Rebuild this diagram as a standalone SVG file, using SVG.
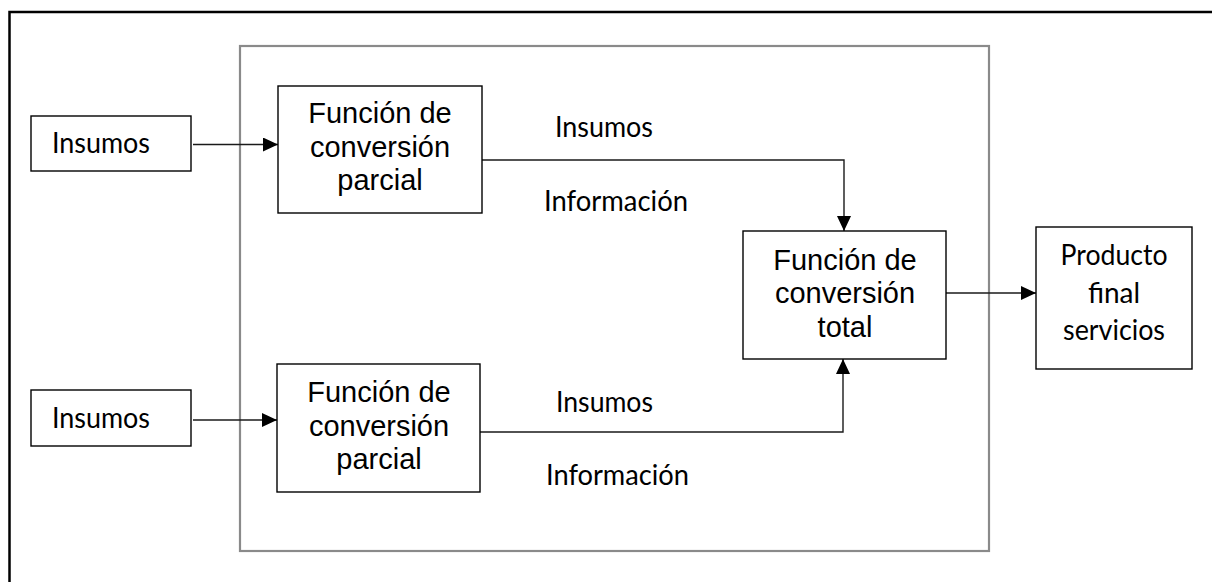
<svg xmlns="http://www.w3.org/2000/svg" width="1212" height="582" viewBox="0 0 1212 582">
<style>
.bg{fill:#ffffff}
.frame{fill:none;stroke:#000;stroke-width:2.5}
.inner{fill:none;stroke:#8a8a8a;stroke-width:2.2}
.box{fill:#fff;stroke:#000;stroke-width:1.4}
.conn{fill:none;stroke:#1a1a1a;stroke-width:1.4}
.ar{font-family:"Liberation Sans",Arial,sans-serif;font-size:29px;fill:#000;text-anchor:middle}
.ca{font-family:Lato,"Open Sans","Liberation Sans",sans-serif;font-size:28px;fill:#000}
.cam{font-family:Lato,"Open Sans","Liberation Sans",sans-serif;font-size:28px;fill:#000;text-anchor:middle}
</style>
<defs>
<marker id="arr" markerUnits="userSpaceOnUse" markerWidth="15" markerHeight="14" refX="15" refY="7" orient="auto">
<path d="M0,0 L15,7 L0,14 z" fill="#000"/>
</marker>
</defs>
<rect class="bg" x="0" y="0" width="1212" height="582"/>
<rect class="frame" x="9.5" y="12" width="1230" height="600"/>
<rect class="inner" x="240" y="46" width="749" height="505"/>

<g id="connectors">
<line class="conn" x1="193" y1="144.5" x2="278" y2="144.5" marker-end="url(#arr)"/>
<line class="conn" x1="193" y1="420" x2="277" y2="420" marker-end="url(#arr)"/>
<path class="conn" d="M482,160 H844 V231" marker-end="url(#arr)"/>
<path class="conn" d="M480,432 H843 V359" marker-end="url(#arr)"/>
<line class="conn" x1="946" y1="293" x2="1036" y2="293" marker-end="url(#arr)"/>
</g>

<g id="insumos-top">
<rect class="box" x="31" y="116" width="160" height="55"/>
<text class="ca" x="52" y="153" textLength="98" lengthAdjust="spacingAndGlyphs">Insumos</text>
</g>
<g id="insumos-bottom">
<rect class="box" x="31" y="390" width="160" height="56"/>
<text class="ca" x="52" y="428" textLength="98" lengthAdjust="spacingAndGlyphs">Insumos</text>
</g>
<g id="parcial-top">
<rect class="box" x="278" y="86" width="204" height="127"/>
<text class="ar" x="380" y="123">Función de</text>
<text class="ar" x="380" y="157">conversión</text>
<text class="ar" x="380" y="190">parcial</text>
</g>
<g id="parcial-bottom">
<rect class="box" x="277" y="364" width="203" height="128"/>
<text class="ar" x="379" y="402">Función de</text>
<text class="ar" x="379" y="436">conversión</text>
<text class="ar" x="379" y="469">parcial</text>
</g>
<g id="total">
<rect class="box" x="743" y="231" width="203" height="128"/>
<text class="ar" x="845" y="270">Función de</text>
<text class="ar" x="845" y="303">conversión</text>
<text class="ar" x="845" y="337">total</text>
</g>
<g id="producto">
<rect class="box" x="1036" y="227" width="156" height="142"/>
<text class="cam" x="1114" y="265" textLength="107" lengthAdjust="spacingAndGlyphs">Producto</text>
<text class="cam" x="1114" y="303">final</text>
<text class="cam" x="1114" y="340" textLength="102" lengthAdjust="spacingAndGlyphs">servicios</text>
</g>
<g id="labels">
<text class="ca" x="555" y="137" textLength="98" lengthAdjust="spacingAndGlyphs">Insumos</text>
<text class="ca" x="544" y="211" textLength="144" lengthAdjust="spacingAndGlyphs">Información</text>
<text class="ca" x="556" y="412" textLength="97" lengthAdjust="spacingAndGlyphs">Insumos</text>
<text class="ca" x="546" y="485" textLength="143" lengthAdjust="spacingAndGlyphs">Información</text>
</g>
</svg>
